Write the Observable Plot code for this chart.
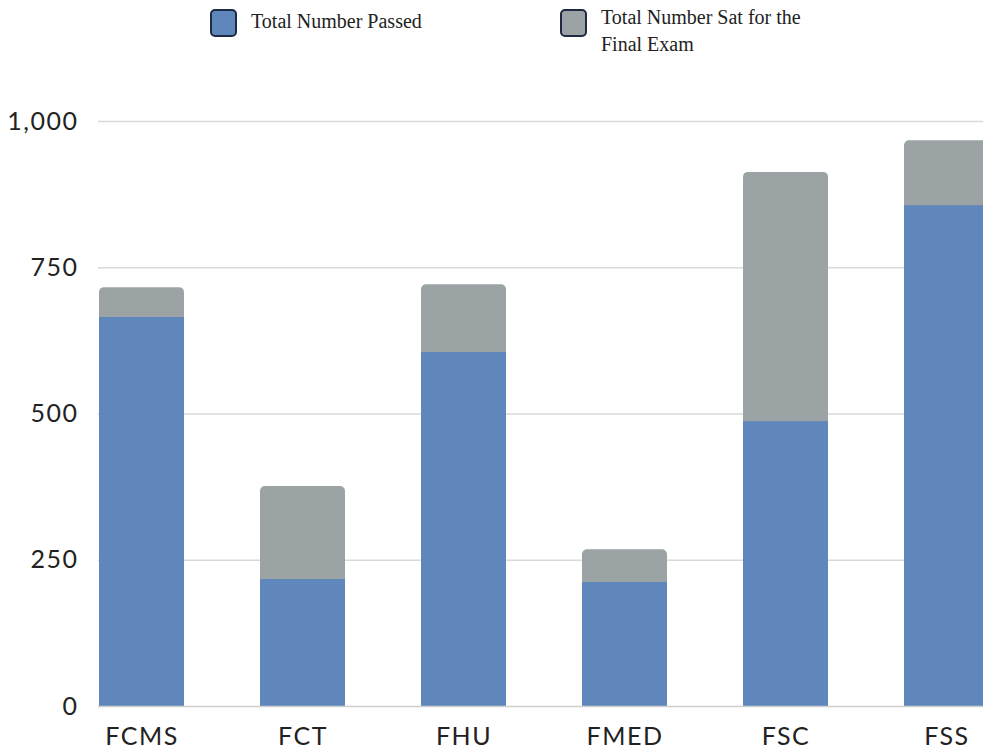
<!DOCTYPE html>
<html>
<head>
<meta charset="utf-8">
<script src="https://cdn.jsdelivr.net/npm/d3@7"></script>
<script src="https://cdn.jsdelivr.net/npm/@observablehq/plot@0.6"></script>
<style>
  html, body { margin: 0; padding: 0; background: #fff; overflow: hidden; }
  #legend { position: relative; height: 62px; width: 983px; font-family: "Liberation Serif", "DejaVu Serif", serif; font-size: 20px; color: #222; }
  .sw { position: absolute; width: 23px; height: 24px; border: 2px solid #1f2b45; border-radius: 5px; box-sizing: content-box; }
  .lt { position: absolute; line-height: 27px; }
  #chart svg { display: block; }
  #chart svg g[aria-label$="axis tick label"] text { letter-spacing: 1.5px; }
</style>
</head>
<body>
<div id="legend"></div>
<div id="chart"></div>
<script>
const faculties = ["FCMS", "FCT", "FHU", "FMED", "FSC", "FSS"];
const passed = [665, 217, 605, 212, 487, 856];
const sat = [716, 376, 721, 268, 913, 967];
const yTicks = [0, 250, 500, 750, 1000];
const seriesNames = ["Total Number Passed", "Total Number Sat for the Final Exam"];
const colors = ["#5f87bb", "#9ca3a5"];

// Legend
const legend = document.getElementById("legend");
legend.innerHTML = `
  <div class="sw" style="left:210px;top:9px;background:${colors[0]}"></div>
  <div class="lt" style="left:251px;top:8px;">${seriesNames[0]}</div>
  <div class="sw" style="left:560px;top:9px;background:${colors[1]}"></div>
  <div class="lt" style="left:601px;top:4px;width:225px;">${seriesNames[1]}</div>
`;

const rows = faculties.map((f, i) => ({faculty: f, passed: passed[i], sat: sat[i]}));

const chart = Plot.plot({
  width: 983,
  height: 687,
  marginTop: 59,
  marginBottom: 43,
  marginLeft: 98,
  marginRight: 0,
  style: {fontFamily: "Lato, sans-serif", color: "#222", background: "#fff"},
  x: {domain: faculties, range: [60, 1027], paddingInner: 0.473, paddingOuter: 0.2365},
  y: {domain: [0, 1000]},
  marks: [
    Plot.ruleY(yTicks.filter(d => d > 0), {stroke: "#d9d9d9", strokeWidth: 1.5}),
    Plot.barY(rows, {x: "faculty", y: "sat", fill: colors[1], rx: 5}),
    Plot.barY(rows, {x: "faculty", y: "passed", fill: colors[0]}),
    Plot.ruleY([0], {stroke: "#cfcfcf", strokeWidth: 1.5}),
    Plot.axisY({ticks: yTicks, tickSize: 0, tickPadding: 20, tickFormat: d3.format(","), fontSize: 25, label: null, fill: "#222"}),
    Plot.axisX({tickSize: 0, tickPadding: 21, fontSize: 25, label: null, fill: "#222"})
  ]
});
document.getElementById("chart").appendChild(chart);
</script>
</body>
</html>
